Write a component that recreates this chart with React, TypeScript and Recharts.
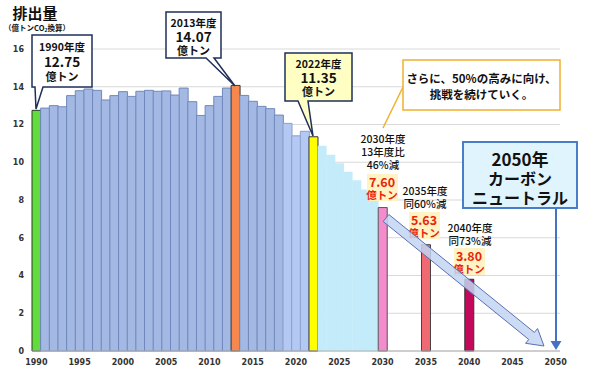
// Japan GHG emissions chart: actuals 1990-2022, pathway and targets to 2050

import { BarChart, Bar, XAxis, YAxis, CartesianGrid, Cell } from 'recharts'

const years = [
  1990, 1991, 1992, 1993, 1994, 1995, 1996, 1997, 1998, 1999,
  2000, 2001, 2002, 2003, 2004, 2005, 2006, 2007, 2008, 2009,
  2010, 2011, 2012, 2013, 2014, 2015, 2016, 2017, 2018, 2019,
  2020, 2021, 2022, 2023, 2024, 2025, 2026, 2027, 2028, 2029,
  2030, 2031, 2032, 2033, 2034, 2035, 2036, 2037, 2038, 2039,
  2040, 2041, 2042, 2043, 2044, 2045, 2046, 2047, 2048, 2049,
  2050,
]

// 1990..2022 (億トンCO2換算)
const actual = [
  12.75, 12.87, 13.0, 12.94, 13.53, 13.79, 13.88, 13.81, 13.3, 13.53,
  13.74, 13.49, 13.76, 13.81, 13.76, 13.78, 13.56, 13.93, 13.21, 12.48,
  13.0, 13.49, 13.93, 14.07, 13.54, 13.23, 12.96, 12.84, 12.5, 12.06,
  11.4, 11.64, 11.35,
]

// 2023..2029 staircase toward the 2030 target
const pathway = [10.87, 10.4, 9.95, 9.5, 9.05, 8.55, 8.1]

const targetYears = [2030, 2035, 2040]
const targets = [7.6, 5.63, 3.8]

const yTicks = [0, 2, 4, 6, 8, 10, 12, 14, 16]

const table = years.map((year, i) => {
  let value: number | null = null
  if (i < actual.length) value = actual[i]
  else if (i - actual.length < pathway.length) value = pathway[i - actual.length]
  const t = targetYears.indexOf(year)
  if (t >= 0) value = targets[t]
  return { year, value }
})

function barStyle(year: number) {
  if (year === 1990) return { fill: '#62dc3c', stroke: '#2d3b26' }
  if (year === 2013) return { fill: '#f5874f', stroke: '#3a3a3a' }
  if (year === 2022) return { fill: '#ffff00', stroke: '#333' }
  if (year === 2030) return { fill: '#f28ccc', stroke: '#555' }
  if (year === 2035) return { fill: '#f06872', stroke: '#444' }
  if (year === 2040) return { fill: '#c4085c', stroke: '#333' }
  if (year > 2022) return { fill: '#c4ebfa', stroke: 'none' }
  if (year >= 2019) return { fill: '#b3c8f2', stroke: '#8ba0cc' }
  return { fill: '#a3b9e3', stroke: '#7088bb' }
}

const JP = "'Noto Sans CJK JP', 'Noto Sans', sans-serif"
const NAVY = '#1f2f5a'

function arrowPoints(sx: number, sy: number, tx: number, ty: number, sh: number, hh: number, hl: number) {
  const L = Math.hypot(tx - sx, ty - sy)
  const ux = (tx - sx) / L
  const uy = (ty - sy) / L
  const nx = -uy
  const ny = ux
  const bx = tx - ux * hl
  const by = ty - uy * hl
  const p = [
    [sx + nx * sh, sy + ny * sh],
    [bx + nx * sh, by + ny * sh],
    [bx + nx * hh, by + ny * hh],
    [tx, ty],
    [bx - nx * hh, by - ny * hh],
    [bx - nx * sh, by - ny * sh],
    [sx - nx * sh, sy - ny * sh],
  ]
  return p.map((q) => q.join(',')).join(' ')
}

function Bubble({ x1, y1, x2, y2, ta, tb, tip, fill }: any) {
  const d = `M${x1},${y1} H${x2} V${y2} H${tb} L${tip[0]},${tip[1]} L${ta},${y2} H${x1} Z`
  return <path d={d} fill={fill} stroke={NAVY} strokeWidth={1.5} strokeLinejoin="miter" />
}

function Txt({ x, y, size, weight = 'bold', color = '#111', children }: any) {
  return (
    <text x={x} y={y} textAnchor="middle" dominantBaseline="central" fontFamily={JP}
      fontSize={size} fontWeight={weight} fill={color}>
      {children}
    </text>
  )
}

function RedLabel({ x, y, value }: { x: number; y: number; value: string }) {
  return (
    <g>
      <rect x={x - 15} y={y - 7} width={31} height={27} fill="#fff3c4" />
      <Txt x={x} y={y} size={12.5} color="#e8250c">{value}</Txt>
      <Txt x={x} y={y + 13.5} size={10.5} color="#e8250c">億トン</Txt>
    </g>
  )
}

function Annotations() {
  return (
    <svg width={590} height={372} style={{ position: 'absolute', left: 0, top: 0, pointerEvents: 'none' }}>
      <defs>
        <linearGradient id="arrowFill" x1="0" y1="0" x2="1" y2="-1">
          <stop offset="0" stopColor="#c2d5f2" />
          <stop offset="0.5" stopColor="#ffffff" />
          <stop offset="1" stopColor="#c2d5f2" />
        </linearGradient>
      </defs>

      {/* title */}
      <Txt x={35} y={12} size={15}>排出量</Txt>
      <text x={37} y={27} textAnchor="middle" dominantBaseline="central" fontFamily={JP} fontSize={7.5} fontWeight="bold" fill="#111">
        （億トンCO<tspan fontSize={5} dy={2}>2</tspan><tspan dy={-2}>換算）</tspan>
      </text>

      {/* 1990 */}
      <Bubble x1={32} y1={35} x2={92} y2={87} ta={35} tb={43} tip={[36, 109]} fill="#fff" />
      <Txt x={62} y={46} size={10.5}>1990年度</Txt>
      <Txt x={62} y={60.5} size={13.5}>12.75</Txt>
      <Txt x={62} y={75.5} size={11}>億トン</Txt>

      {/* 2013 */}
      <Bubble x1={166} y1={12} x2={221} y2={58} ta={206} tb={214} tip={[235, 86]} fill="#fff" />
      <Txt x={193.5} y={22.5} size={10.5}>2013年度</Txt>
      <Txt x={193.5} y={36} size={13.5}>14.07</Txt>
      <Txt x={193.5} y={49.5} size={11}>億トン</Txt>

      {/* 2022 */}
      <Bubble x1={285} y1={53} x2={352} y2={101} ta={298} tb={308} tip={[313, 136]} fill="#ffffc4" />
      <Txt x={318.5} y={63.5} size={10.5}>2022年度</Txt>
      <Txt x={318.5} y={77} size={13.5}>11.35</Txt>
      <Txt x={318.5} y={90.5} size={11}>億トン</Txt>

      {/* message box */}
      <line x1={403} y1={87} x2={383} y2={128} stroke="#f0b030" strokeWidth={1.5} />
      <rect x={403} y={60} width={157} height={50} fill="#fff" stroke="#f0b030" strokeWidth={1.5} />
      <Txt x={481.5} y={78} size={11.5} weight={600}>さらに、50%の高みに向け、</Txt>
      <Txt x={481.5} y={94} size={11.5} weight={600}>挑戦を続けていく。</Txt>

      {/* target notes */}
      <Txt x={383} y={138} size={10.5} weight={500}>2030年度</Txt>
      <Txt x={383} y={151} size={10.5} weight={500}>13年度比</Txt>
      <Txt x={383} y={164} size={10.5} weight={500}>46%減</Txt>
      <RedLabel x={382} y={181} value="7.60" />

      <Txt x={425} y={190} size={10.5} weight={500}>2035年度</Txt>
      <Txt x={425} y={203} size={10.5} weight={500}>同60%減</Txt>
      <RedLabel x={424} y={219} value="5.63" />

      <Txt x={470} y={227} size={10.5} weight={500}>2040年度</Txt>
      <Txt x={470} y={240} size={10.5} weight={500}>同73%減</Txt>
      <RedLabel x={469} y={255} value="3.80" />

      {/* downward trend arrow */}
      <polygon points={arrowPoints(386, 218, 544, 346, 4.5, 9.5, 16)} fill="url(#arrowFill)" fillOpacity={0.85}
        stroke="#5b6fb5" strokeWidth={1} strokeLinejoin="miter" />

      {/* 2050 box and arrow */}
      <line x1={556} y1={208} x2={556} y2={343} stroke="#4472c4" strokeWidth={2} />
      <polygon points="550.5,341 561.5,341 556,350" fill="#4472c4" />
      <rect x={463} y={142} width={114} height={66} fill="#dff4fd" stroke="#4a7cc8" strokeWidth={2} />
      <Txt x={520} y={158} size={17}>2050年</Txt>
      <Txt x={520} y={178} size={16}>カーボン</Txt>
      <Txt x={520} y={197} size={16}>ニュートラル</Txt>
    </svg>
  )
}

export default function App() {
  const tickStyle = { fontFamily: "'DejaVu Sans', sans-serif", fontSize: 8, fontWeight: 'bold', fill: '#333' }
  return (
    <div style={{ position: 'absolute', left: 0, top: 0, width: 590, height: 372, background: '#fff' }}>
      <BarChart width={590} height={372} data={table} margin={{ top: 49, right: 30, bottom: 7, left: 8 }}
        barCategoryGap={0}>
        <CartesianGrid vertical={false} stroke="#d9d9d9" />
        <XAxis dataKey="year" interval={4} tickLine={false} axisLine={{ stroke: '#b0b0b0' }} height={14} tick={tickStyle} />
        <YAxis domain={[0, 16]} ticks={yTicks} width={24} axisLine={false} tickLine={false} tick={tickStyle} />
        <Bar dataKey="value" isAnimationActive={false}>
          {table.map((d) => {
            const s = barStyle(d.year)
            return <Cell key={d.year} fill={s.fill} stroke={s.stroke} strokeWidth={1} />
          })}
        </Bar>
      </BarChart>
      <Annotations />
    </div>
  )
}
